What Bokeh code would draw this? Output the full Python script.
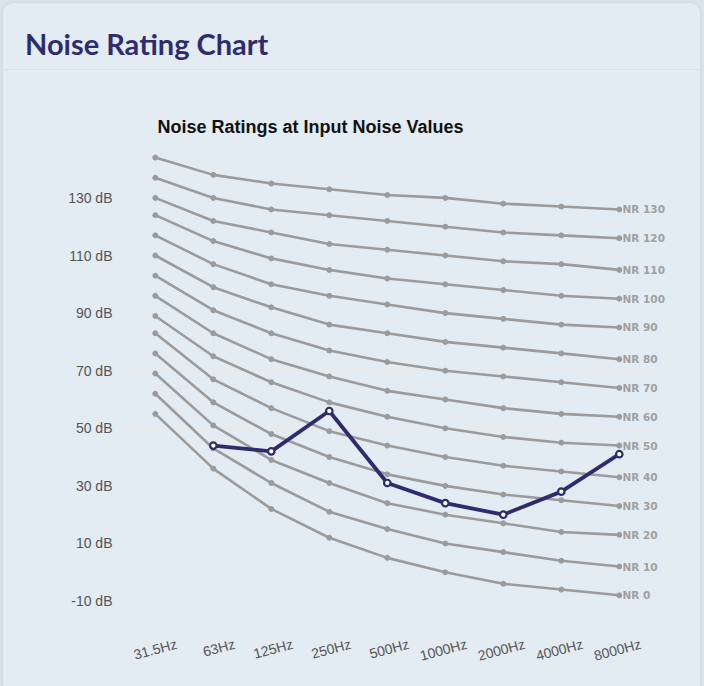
import math
from bokeh.plotting import figure
from bokeh.layouts import column
from bokeh.models import (FixedTicker, Range1d, Label, Span, LinearAxis,
                          GlobalInlineStyleSheet)
from bokeh.embed import file_html
from bokeh.resources import INLINE

# ---------------- data ----------------
FREQS = ["31.5Hz", "63Hz", "125Hz", "250Hz", "500Hz", "1000Hz", "2000Hz", "4000Hz", "8000Hz"]
NR_LEVELS = [0, 10, 20, 30, 40, 50, 60, 70, 80, 90, 100, 110, 120, 130]
NR_0 = [55, 36, 22, 12, 5, 0, -4, -6, -8]
NR_10 = [62, 43, 31, 21, 15, 10, 7, 4, 2]
NR_20 = [69, 51, 39, 31, 24, 20, 17, 14, 13]
NR_30 = [76, 59, 48, 40, 34, 30, 27, 25, 23]
NR_40 = [83, 67, 57, 49, 44, 40, 37, 35, 33]
NR_50 = [89, 75, 66, 59, 54, 50, 47, 45, 44]
NR_60 = [96, 83, 74, 68, 63, 60, 57, 55, 54]
NR_70 = [103, 91, 83, 77, 73, 70, 68, 66, 64]
NR_80 = [110, 99, 92, 86, 83, 80, 78, 76, 74]
NR_90 = [117, 107, 100, 96, 93, 90, 88, 86, 85]
NR_100 = [124, 115, 109, 105, 102, 100, 98, 96, 95]
NR_110 = [130, 122, 118, 114, 112, 110, 108, 107, 105]
NR_120 = [137, 130, 126, 124, 122, 120, 118, 117, 116]
NR_130 = [144, 138, 135, 133, 131, 130, 128, 127, 126]
NR_CURVES = [NR_0, NR_10, NR_20, NR_30, NR_40, NR_50, NR_60,
             NR_70, NR_80, NR_90, NR_100, NR_110, NR_120, NR_130]

USER_FREQS = ["63Hz", "125Hz", "250Hz", "500Hz", "1000Hz", "2000Hz", "4000Hz", "8000Hz"]
USER_DB = [44, 42, 56, 31, 24, 20, 28, 41]

Y_TICKS = [-10, 10, 30, 50, 70, 90, 110, 130]
Y_TICK_LABELS = [f"{v} dB" for v in Y_TICKS]

HEADER = "Noise Rating Chart"
TITLE = "Noise Ratings at Input Noise Values"

# ---------------- style ----------------
CARD = "#e3ebf3"
PAGE_BG = "#dbe3ec"
GRAY = "#9b9b9b"
NAVY = "#2e2c6e"
GRID = "#ebe7e3"

CW = 697            # card width
HH = 67             # header height
MH = 616            # chart figure height
FL, FR, FT, FB = 117, 650, 75, 568   # chart frame edges (figure pixels)
X0, X1 = -0.6, 8.59
Y0, Y1 = -23.0, 148.2
LABEL_SHIFT = 0.37  # rotated x labels centred on their ticks

# ---------------- header ----------------
header = figure(width=CW, height=HH, output_backend="svg", toolbar_location=None,
                x_range=Range1d(0, CW), y_range=Range1d(0, HH),
                x_axis_location=None, y_axis_location=None, min_border=0,
                background_fill_color=CARD, border_fill_color=CARD,
                outline_line_color=None)
header.frame_align = False
header.grid.visible = False
header.add_layout(Label(x=21.5, y=HH - 40, text=HEADER, text_font="Lato",
                        text_font_style="bold", text_font_size="29px",
                        text_color=NAVY, text_baseline="alphabetic"))
header.add_layout(Span(location=0.5, dimension="width", line_color="#cdd6df",
                       line_width=1))

# ---------------- chart ----------------
p = figure(width=CW, height=MH, output_backend="svg", toolbar_location=None,
           x_range=Range1d(X0, X1), y_range=Range1d(Y0, Y1),
           min_border_left=FL, min_border_right=CW - FR,
           min_border_top=FT, min_border_bottom=MH - FB,
           background_fill_color=CARD, border_fill_color=CARD,
           outline_line_color=None)
p.frame_align = False

p.title.text = TITLE
p.title.align = "left"
p.title.offset = 37
p.title.text_font = "Liberation Sans"
p.title.text_font_style = "bold"
p.title.text_font_size = "18px"
p.title.text_color = "#111111"
p.title.standoff = 17

xs = list(range(len(FREQS)))

p.xaxis.visible = False
p.xgrid.ticker = FixedTicker(ticks=xs)
p.yaxis.ticker = FixedTicker(ticks=Y_TICKS)
p.yaxis.major_label_overrides = dict(zip(Y_TICKS, Y_TICK_LABELS))

p.extra_x_ranges = {"labels": Range1d(X0 - LABEL_SHIFT, X1 - LABEL_SHIFT)}
xlab = LinearAxis(x_range_name="labels", ticker=FixedTicker(ticks=xs),
                  major_label_overrides={i: f for i, f in enumerate(FREQS)},
                  major_label_orientation=math.radians(15),
                  major_label_standoff=5)
p.add_layout(xlab, "below")

last_vals = [c[-1] for c in NR_CURVES]
nr_axis = LinearAxis(ticker=FixedTicker(ticks=last_vals),
                     major_label_overrides={v: f"NR {l}" for v, l in zip(last_vals, NR_LEVELS)},
                     major_label_standoff=-31)
p.add_layout(nr_axis, "right")

for ax in (xlab, p.yaxis[0], nr_axis):
    ax.axis_line_color = None
    ax.major_tick_line_color = None
    ax.minor_tick_line_color = None
    ax.major_tick_out = 0
    ax.major_tick_in = 0
for ax in (xlab, p.yaxis[0]):
    ax.major_label_text_font = "Liberation Sans"
    ax.major_label_text_font_size = "14px"
    ax.major_label_text_color = "#555555"
p.yaxis[0].major_label_standoff = 8
nr_axis.major_label_text_font = "DejaVu Sans"
nr_axis.major_label_text_font_style = "bold"
nr_axis.major_label_text_font_size = "10.5px"
nr_axis.major_label_text_color = "#a0a0a0"

p.grid.grid_line_color = GRID
p.grid.grid_line_width = 1

for lvl, vals in zip(NR_LEVELS, NR_CURVES):
    p.line(xs, vals, line_color=GRAY, line_width=2.6)
    p.scatter(xs, vals, size=5, fill_color=GRAY, line_color=GRAY)

ux = [FREQS.index(f) for f in USER_FREQS]
p.line(ux, USER_DB, line_color=NAVY, line_width=3.8)
p.scatter(ux, USER_DB, size=6.5, fill_color="white", line_color=NAVY, line_width=2.2)

card = column(header, p, spacing=0, margin=(3, 4, 0, 3),
              styles={"border-radius": "10px 10px 0 0", "overflow": "hidden",
                      "background-color": CARD,
                      "box-shadow": "0 0 0 1px #d3dbe4, 0 1px 3px rgba(120,135,155,0.35)"},
              stylesheets=[GlobalInlineStyleSheet(css=f"body {{ background-color: {PAGE_BG}; }}")])

open("out.html", "w").write(file_html(card, INLINE))
